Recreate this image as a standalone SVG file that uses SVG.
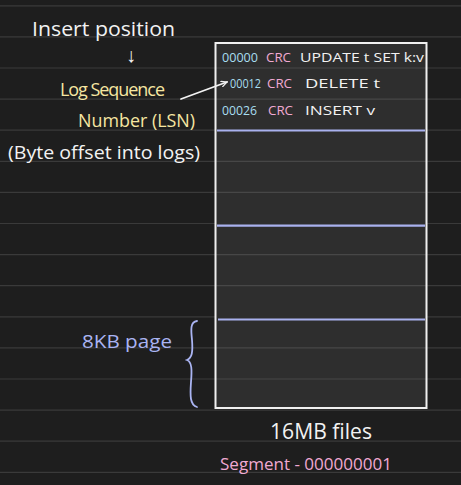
<svg xmlns="http://www.w3.org/2000/svg" width="461" height="485" viewBox="0 0 461 485">
<defs>
<style>
.bg{fill:#1e1e1e}
.rule{stroke:#3a3a3a;stroke-width:1.2}
.rulein{stroke:#474747;stroke-width:1.2}
.hand{font-family:"Open Sans","Liberation Sans",sans-serif}
.w{fill:#f2f2f2}
.y{fill:#f6e6a2}
.c{fill:#a8def0}
.p{fill:#f1a9d2}
.l{fill:#aab4f2}
.row{font-size:13px}
.sep{stroke:#a9b1ee;stroke-width:2.2}
</style>
<marker id="ah" viewBox="0 0 10 10" refX="9" refY="5" markerWidth="7" markerHeight="7" orient="auto" markerUnits="userSpaceOnUse">
<path d="M1,1 L9,5 L1,9" fill="none" stroke="#f2f2f2" stroke-width="1.8" stroke-linecap="round"/>
</marker>
</defs>
<rect class="bg" x="0" y="0" width="461" height="485"/>
<g id="ruled">
<line class="rule" x1="0" y1="5.8" x2="461" y2="5.8"/>
<line class="rule" x1="0" y1="36.9" x2="461" y2="36.9"/>
<line class="rule" x1="0" y1="68" x2="461" y2="68"/>
<line class="rule" x1="0" y1="99.1" x2="461" y2="99.1"/>
<line class="rule" x1="0" y1="130.2" x2="461" y2="130.2"/>
<line class="rule" x1="0" y1="161.3" x2="461" y2="161.3"/>
<line class="rule" x1="0" y1="192.4" x2="461" y2="192.4"/>
<line class="rule" x1="0" y1="223.5" x2="461" y2="223.5"/>
<line class="rule" x1="0" y1="254.6" x2="461" y2="254.6"/>
<line class="rule" x1="0" y1="285.7" x2="461" y2="285.7"/>
<line class="rule" x1="0" y1="316.8" x2="461" y2="316.8"/>
<line class="rule" x1="0" y1="347.9" x2="461" y2="347.9"/>
<line class="rule" x1="0" y1="379" x2="461" y2="379"/>
<line class="rule" x1="0" y1="410.1" x2="461" y2="410.1"/>
<line class="rule" x1="0" y1="441.2" x2="461" y2="441.2"/>
<line class="rule" x1="0" y1="472.3" x2="461" y2="472.3"/>
</g>
<g id="segment">
<rect x="215.5" y="43" width="211" height="365" fill="#2e2e2e"/>
<g>
<line class="rulein" x1="216" y1="68" x2="426" y2="68"/>
<line class="rulein" x1="216" y1="99.1" x2="426" y2="99.1"/>
<line class="rulein" x1="216" y1="161.3" x2="426" y2="161.3"/>
<line class="rulein" x1="216" y1="192.4" x2="426" y2="192.4"/>
<line class="rulein" x1="216" y1="254.6" x2="426" y2="254.6"/>
<line class="rulein" x1="216" y1="285.7" x2="426" y2="285.7"/>
<line class="rulein" x1="216" y1="347.9" x2="426" y2="347.9"/>
<line class="rulein" x1="216" y1="379" x2="426" y2="379"/>
</g>
<rect x="215.5" y="43" width="211" height="365" fill="none" stroke="#f0f0f0" stroke-width="2"/>
<line class="sep" x1="217" y1="130.5" x2="425" y2="130.5"/>
<line class="sep" x1="217" y1="225.7" x2="425" y2="225.7"/>
<line class="sep" x1="218" y1="319.5" x2="425" y2="319.5"/>
</g>
<g id="row1" class="hand row">
<text class="c" x="222" y="62" textLength="36" lengthAdjust="spacingAndGlyphs">00000</text>
<text class="p" x="266" y="62" textLength="25" lengthAdjust="spacingAndGlyphs">CRC</text>
<text class="w" x="300" y="62" textLength="124" lengthAdjust="spacingAndGlyphs">UPDATE t SET k:v</text>
</g>
<g id="row2" class="hand row">
<text class="c" x="230" y="88" textLength="31" lengthAdjust="spacingAndGlyphs">00012</text>
<text class="p" x="267" y="88" textLength="25" lengthAdjust="spacingAndGlyphs">CRC</text>
<text class="w" x="305" y="88" textLength="75" lengthAdjust="spacingAndGlyphs">DELETE t</text>
</g>
<g id="row3" class="hand row">
<text class="c" x="222" y="115" textLength="35" lengthAdjust="spacingAndGlyphs">00026</text>
<text class="p" x="268" y="115" textLength="25" lengthAdjust="spacingAndGlyphs">CRC</text>
<text class="w" x="305" y="115" textLength="70" lengthAdjust="spacingAndGlyphs">INSERT v</text>
</g>
<g id="insert-position" class="hand">
<text class="w" x="32" y="36" font-size="20" textLength="143" lengthAdjust="spacingAndGlyphs">Insert position</text>
<text class="w" x="131" y="62" font-size="20" text-anchor="middle">↓</text>
</g>
<g id="lsn" class="hand">
<text class="y" x="60" y="96" font-size="18" textLength="105" lengthAdjust="spacing">Log Sequence</text>
<text class="y" x="78" y="127" font-size="18" textLength="117" lengthAdjust="spacingAndGlyphs">Number (LSN)</text>
<text class="w" x="8" y="159" font-size="18" textLength="192" lengthAdjust="spacingAndGlyphs">(Byte offset into logs)</text>
</g>
<g id="page-label" class="hand">
<text class="l" x="82" y="348" font-size="18" textLength="90" lengthAdjust="spacingAndGlyphs">8KB page</text>
<path d="M197,321 C190,322 191,330 192,340 C193,352 192,358 187,360 C192,362 192,370 191,382 C190,396 190,405 197,407" fill="none" stroke="#aab4f2" stroke-width="1.8" stroke-linecap="round"/>
</g>
<g id="files-label" class="hand">
<text class="w" x="270" y="439" font-size="22" textLength="102" lengthAdjust="spacingAndGlyphs">16MB files</text>
<text class="p" x="220" y="470" font-size="17" textLength="172" lengthAdjust="spacingAndGlyphs">Segment - 000000001</text>
</g>
<g id="connectors">
<line x1="181" y1="99" x2="227" y2="82" stroke="#f2f2f2" stroke-width="1.8" stroke-linecap="round" marker-end="url(#ah)"/>
</g>
</svg>
